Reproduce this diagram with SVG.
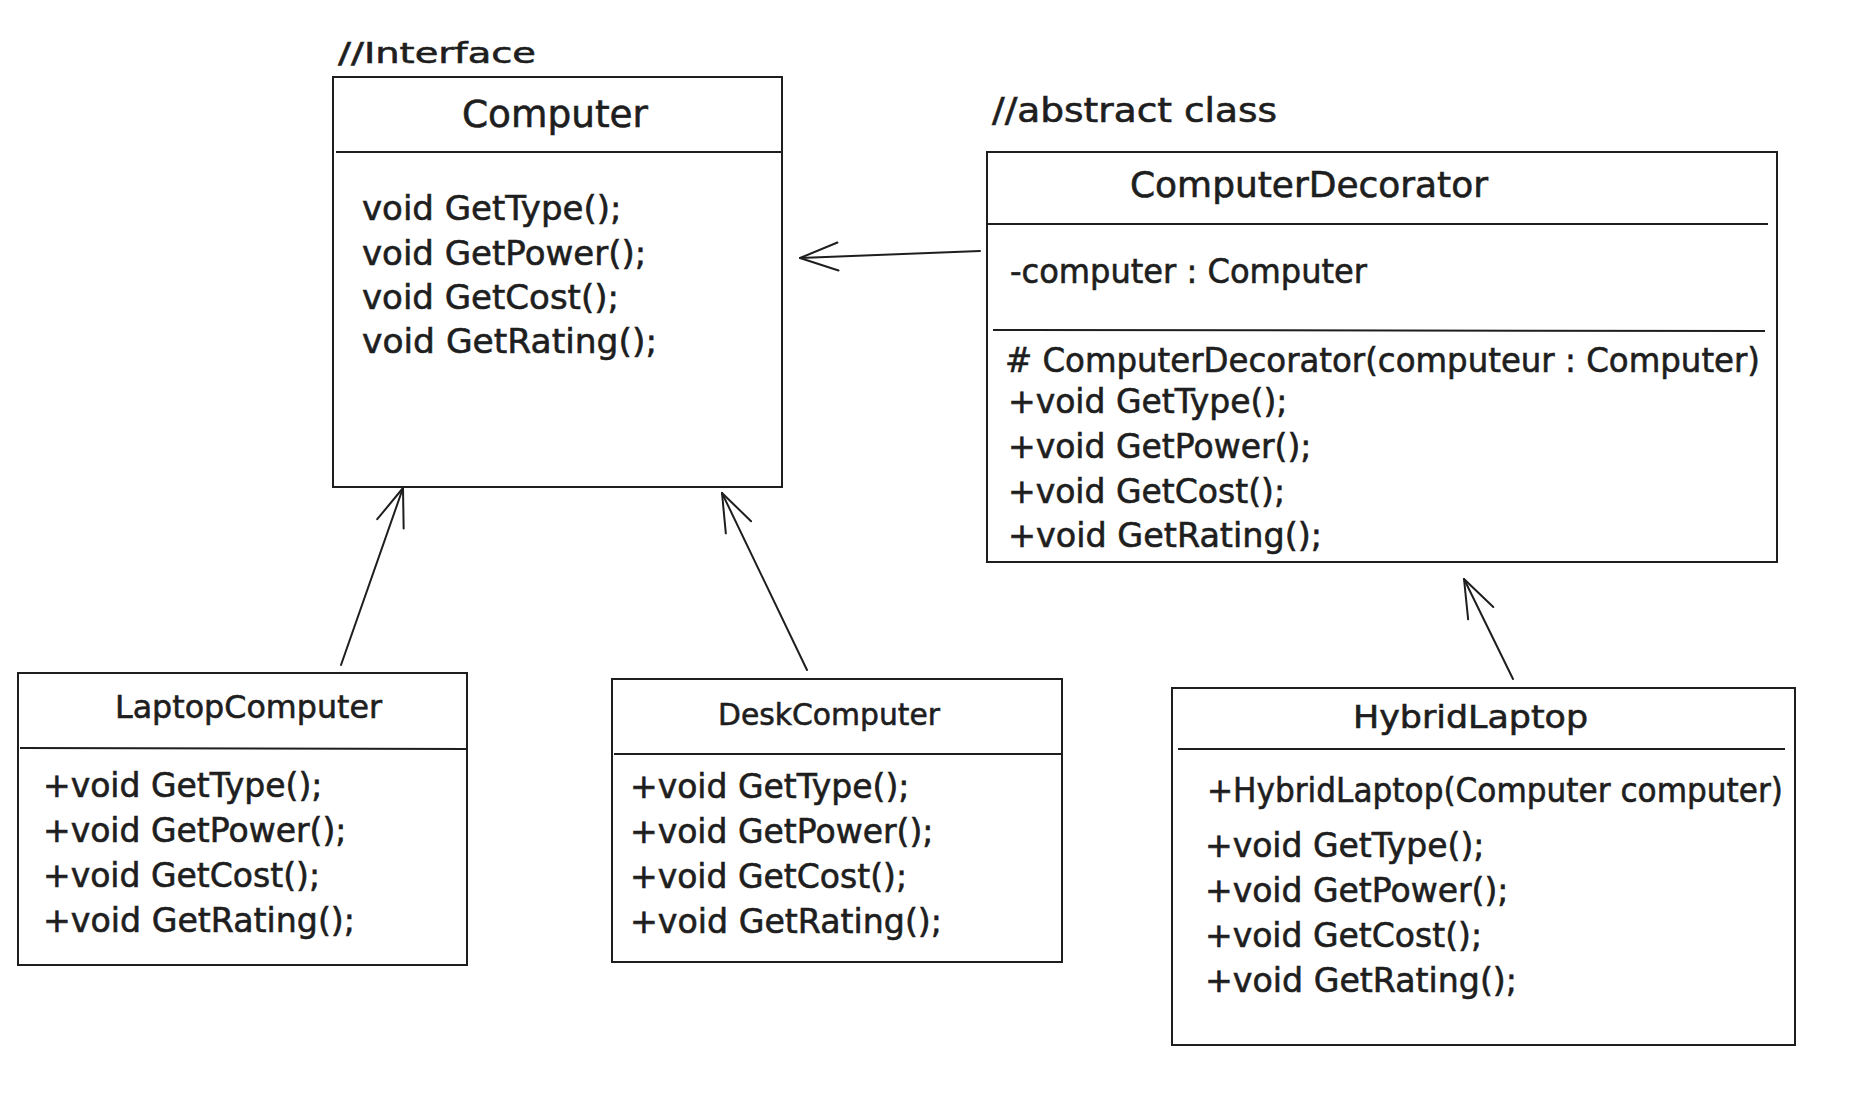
<svg xmlns="http://www.w3.org/2000/svg" width="1876" height="1114" viewBox="0 0 1876 1114">
  <defs>
    <style>
      .box { fill: #ffffff; stroke: #1e1e1e; stroke-width: 2; }
      .rule { fill: none; stroke: #1e1e1e; stroke-width: 2; }
      .txt { font-family: "DejaVu Sans", "Liberation Sans", sans-serif; fill: #1e1e1e; stroke: #1e1e1e; stroke-width: 0.6; }
      .m { font-size: 33px; }
      .edge { fill: none; stroke: #1e1e1e; stroke-width: 2; stroke-linecap: round; }
    </style>
    <marker id="open" markerUnits="userSpaceOnUse" orient="auto" refX="0" refY="0" markerWidth="60" markerHeight="60" viewBox="-50 -30 60 60" overflow="visible">
      <path d="M-38,-14 L0,0 L-38,14" fill="none" stroke="#1e1e1e" stroke-width="2" stroke-linecap="round" stroke-linejoin="round"/>
    </marker>
  </defs>

  <rect width="1876" height="1114" fill="#ffffff"/>

  <!-- interface -->
  <g id="computer">
    <text class="txt" x="338" y="63" font-size="29" textLength="198" lengthAdjust="spacingAndGlyphs">//Interface</text>
    <rect class="box" x="333" y="77" width="449" height="410"/>
    <path class="rule" d="M336,152 L782,152"/>
    <text class="txt" x="462" y="127" font-size="37" textLength="186" lengthAdjust="spacingAndGlyphs" stroke-width="1">Computer</text>
    <text class="txt" x="362" y="220" font-size="34">void GetType();</text>
    <text class="txt" x="362" y="265" font-size="34">void GetPower();</text>
    <text class="txt" x="362" y="309" font-size="34">void GetCost();</text>
    <text class="txt" x="362" y="353" font-size="34" textLength="295" lengthAdjust="spacingAndGlyphs">void GetRating();</text>
  </g>

  <!-- abstract decorator -->
  <g id="computer-decorator">
    <text class="txt" x="992" y="122" font-size="33" textLength="285" lengthAdjust="spacingAndGlyphs">//abstract class</text>
    <rect class="box" x="987" y="152" width="790" height="410"/>
    <path class="rule" d="M987,224 L1768,224"/>
    <path class="rule" d="M993,330 L1765,331"/>
    <text class="txt" x="1130" y="197" font-size="35" textLength="358" lengthAdjust="spacingAndGlyphs">ComputerDecorator</text>
    <text class="txt m" x="1010" y="283" textLength="357" lengthAdjust="spacingAndGlyphs">-computer : Computer</text>
    <text class="txt m" x="1005" y="372" textLength="755" lengthAdjust="spacingAndGlyphs"># ComputerDecorator(computeur : Computer)</text>
    <text class="txt m" x="1008" y="413">+void GetType();</text>
    <text class="txt m" x="1008" y="458">+void GetPower();</text>
    <text class="txt m" x="1008" y="503">+void GetCost();</text>
    <text class="txt m" x="1008" y="547" textLength="314" lengthAdjust="spacingAndGlyphs">+void GetRating();</text>
  </g>

  <!-- concrete components -->
  <g id="laptop-computer">
    <rect class="box" x="18" y="673" width="449" height="292"/>
    <path class="rule" d="M20,748 L467,749"/>
    <text class="txt" x="115" y="718" font-size="32" textLength="267" lengthAdjust="spacingAndGlyphs">LaptopComputer</text>
    <text class="txt m" x="43" y="797">+void GetType();</text>
    <text class="txt m" x="43" y="842">+void GetPower();</text>
    <text class="txt m" x="43" y="887">+void GetCost();</text>
    <text class="txt m" x="43" y="932" textLength="312" lengthAdjust="spacingAndGlyphs">+void GetRating();</text>
  </g>

  <g id="desk-computer">
    <rect class="box" x="612" y="679" width="450" height="283"/>
    <path class="rule" d="M614,754 L1062,754"/>
    <text class="txt" x="718" y="725" font-size="31" textLength="222" lengthAdjust="spacingAndGlyphs">DeskComputer</text>
    <text class="txt m" x="630" y="798">+void GetType();</text>
    <text class="txt m" x="630" y="843">+void GetPower();</text>
    <text class="txt m" x="630" y="888">+void GetCost();</text>
    <text class="txt m" x="630" y="933" textLength="312" lengthAdjust="spacingAndGlyphs">+void GetRating();</text>
  </g>

  <!-- concrete decorator -->
  <g id="hybrid-laptop">
    <rect class="box" x="1172" y="688" width="623" height="357"/>
    <path class="rule" d="M1178,749 L1785,749"/>
    <text class="txt" x="1353" y="728" font-size="32" textLength="235" lengthAdjust="spacingAndGlyphs">HybridLaptop</text>
    <text class="txt m" x="1207" y="802" textLength="576" lengthAdjust="spacingAndGlyphs">+HybridLaptop(Computer computer)</text>
    <text class="txt m" x="1205" y="857">+void GetType();</text>
    <text class="txt m" x="1205" y="902">+void GetPower();</text>
    <text class="txt m" x="1205" y="947">+void GetCost();</text>
    <text class="txt m" x="1205" y="992" textLength="312" lengthAdjust="spacingAndGlyphs">+void GetRating();</text>
  </g>

  <!-- inheritance / composition links -->
  <g id="connectors">
    <path class="edge" d="M980,251 L800,258" marker-end="url(#open)"/>
    <path class="edge" d="M341,665 L403,488" marker-end="url(#open)"/>
    <path class="edge" d="M807,670 L722,493" marker-end="url(#open)"/>
    <path class="edge" d="M1513,679 L1464,579" marker-end="url(#open)"/>
  </g>
</svg>
